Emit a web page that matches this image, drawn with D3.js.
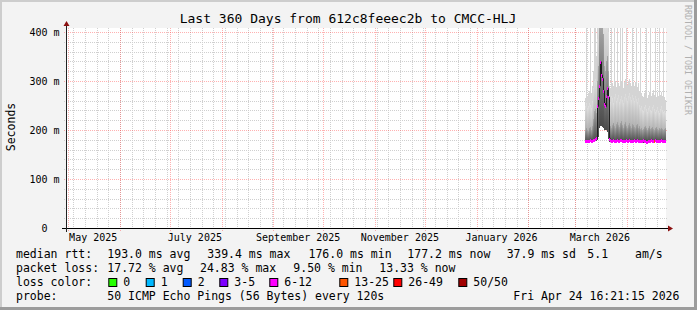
<!DOCTYPE html>
<html><head><meta charset="utf-8">
<script src="https://cdn.jsdelivr.net/npm/d3@7"></script>
<style>
html,body{margin:0;padding:0;background:#f3f3f3;}
svg{display:block;}
text{font-family:"DejaVu Sans Mono",monospace;white-space:pre;}
</style></head><body>
<svg id="c" width="697" height="310"></svg>
<script>
// ---------- data ----------
const title = "Last 360 Days from 612c8feeec2b to CMCC-HLJ";
const endTime = new Date(2026, 3, 24, 16, 21, 15);
const rangeDays = 360;
const yMax = 408.16;
const yTicks = [0, 100, 200, 300, 400];
const yTickLabels = ["0  ", "100 m", "200 m", "300 m", "400 m"];
const yMinorTicks = [20,40,60,80,120,140,160,180,220,240,260,280,320,340,360,380,400];
const xLabelDates = ["2025-05-01","2025-07-01","2025-09-01","2025-11-01","2026-01-01","2026-03-01"];
const xLabels = ["May 2025","July 2025","September 2025","November 2025","January 2026","March 2026"];

// RRD columns: one consolidated step (14.4 h) each, starting here
const dataStart = new Date(2026, 2, 7, 2, 0, 0);
const stepHours = 14.4;
// median rtt (ms)
const median = [178,177,178,177,178,179,178,178,179,180,181,183,
  248,265,290,339,312,305,280,254,248,270,285,267,
  182,179,178,178,179,178,177,178,179,178,178,180,179,178,178,177,178,179,178,178,
  179,178,178,177,178,179,178,178,179,178,178,177,178,178,179,178,177,176,176,177,
  178,178,179,178,177,178,179,178,178,177,178,178,179,178,177,178,177];
// fastest ping (bottom of smoke)
const pingMin = [175,175,175,176,175,175,176,175,176,176,177,177,
  180,185,205,208,208,206,205,200,200,200,195,182,
  176,176,175,176,176,175,176,176,175,176,176,175,176,176,175,176,176,175,176,176,
  175,176,176,175,176,176,175,176,176,175,176,175,175,174,174,175,176,176,175,176,
  176,175,176,176,175,176,176,175,176,176,175,176,176,175,176,176,175];
// upper edge of dense smoke core
const pingCore = [200,205,200,198,205,206,200,208,222,238,242,235,
  300,330,408,408,408,408,395,330,320,340,350,320,
  212,208,205,210,215,208,204,212,216,210,206,214,218,210,205,212,216,208,204,210,
  214,208,205,212,210,206,204,210,212,205,208,202,204,200,202,206,208,204,200,205,
  208,202,204,206,202,200,204,206,202,200,204,202,205,202,200,202,204];
// upper edge of main smoke
const pingHigh = [248,255,245,248,255,250,245,260,285,300,305,298,
  385,408,408,408,408,408,408,408,408,408,408,400,
  262,258,270,265,255,268,274,260,266,272,258,264,270,262,256,268,274,266,260,270,
  276,268,262,272,266,260,270,264,258,266,252,245,248,240,238,246,250,242,236,244,
  248,240,238,246,252,242,236,240,246,238,234,242,248,240,236,238,234];
// slowest ping (capped at the top of the graph)
const pingMax = [265,420,270,275,280,420,275,290,320,420,420,350,
  420,420,420,420,420,420,420,420,420,420,420,420,
  290,285,420,295,290,420,300,288,420,296,290,420,300,420,285,298,304,420,292,300,
  305,296,290,420,295,290,298,420,288,295,280,420,275,270,268,276,280,420,266,272,
  278,420,270,276,282,272,420,268,275,270,420,272,278,270,420,268,262];
// lost pings out of 50
const lossCount = [9,9,8,9,9,10,9,9,9,10,10,11,
  12,11,10,9,10,11,10,9,9,10,11,10,
  9,8,9,9,10,9,9,8,9,9,10,9,9,9,8,9,9,10,9,9,
  9,9,8,9,9,10,9,9,8,9,9,9,10,9,9,8,9,9,10,9,
  9,9,8,9,9,13,9,9,10,9,9,8,9,9,10,9,7];

const lossBuckets = [[0,0],[1,1],[2,2],[3,5],[6,12],[13,25],[26,49],[50,50]];
const lossLabels = ["0","1","2","3-5","6-12","13-25","26-49","50/50"];
const lossColors = ["#26ff00","#00b8ff","#0059ff","#7e00ff","#ff00ff","#ff5500","#ff0000","#a10000"];

const statLines = [
  {label:"median rtt:", parts:[["193.0 ms avg",107.3],["339.4 ms max",207.3],["176.0 ms min",308.5],["177.2 ms now",407.3],["37.9 ms sd",506.7],["5.1",587.3],["am/s",635]]},
  {label:"packet loss:", parts:[["17.72 % avg",107.3],["24.83 % max",200],["9.50 % min",293.3],["13.33 % now",379.3]]}
];
const probeText = "50 ICMP Echo Pings (56 Bytes) every 120s";
const dateText = "Fri Apr 24 16:21:15 2026";

// ---------- drawing ----------
const svg = d3.select("#c");
const W = 697, H = 310;
const X0 = 66, X1 = 666, Y0 = 228, Y1 = 28;
const startTime = d3.timeDay.offset(endTime, -rangeDays);
const x = d3.scaleTime().domain([startTime, endTime]).range([X0, X1]);
const y = d3.scaleLinear().domain([0, yMax]).range([Y0, Y1]);

// frame
svg.append("rect").attr("width", W).attr("height", H).attr("fill", "#f3f3f3");
svg.append("rect").attr("x",0).attr("y",0).attr("width",W).attr("height",2).attr("fill","#cdcdcd");
svg.append("rect").attr("x",0).attr("y",0).attr("width",2).attr("height",H).attr("fill","#cdcdcd");
svg.append("rect").attr("x",W-3).attr("y",0).attr("width",3).attr("height",H).attr("fill","#9c9c9c");
svg.append("rect").attr("x",0).attr("y",H-3).attr("width",W).attr("height",3).attr("fill","#9c9c9c");

// canvas
svg.append("rect").attr("x", X0).attr("y", Y1).attr("width", X1 - X0).attr("height", Y0 - Y1).attr("fill", "#fff");

const minorCol = "#cfcfcf", majorCol = "rgba(255,70,70,0.42)";
const g = svg.append("g").attr("shape-rendering", "crispEdges");
yMinorTicks.filter(v => v % 100 !== 0).forEach(v => {
  g.append("line").attr("x1", X0 - 2).attr("x2", X1 + 2)
    .attr("y1", Math.round(y(v)) + 0.5).attr("y2", Math.round(y(v)) + 0.5)
    .attr("stroke", minorCol).attr("stroke-dasharray", "1,1");
});
d3.timeSunday.range(startTime, endTime).forEach(d => {
  const xx = Math.round(x(d)) + 0.5;
  g.append("line").attr("x1", xx).attr("x2", xx).attr("y1", Y1).attr("y2", Y0 + 2)
    .attr("stroke", minorCol).attr("stroke-dasharray", "1,1");
});
d3.timeMonth.range(startTime, endTime).forEach(d => {
  const xx = Math.round(x(d)) + 0.5;
  g.append("line").attr("x1", xx).attr("x2", xx).attr("y1", Y1).attr("y2", Y0 + 3)
    .attr("stroke", majorCol).attr("stroke-dasharray", "1,1");
});
yTicks.filter(v => v > 0).forEach(v => {
  g.append("line").attr("x1", X0 - 2).attr("x2", X1 + 2)
    .attr("y1", Math.round(y(v)) + 0.5).attr("y2", Math.round(y(v)) + 0.5)
    .attr("stroke", majorCol).attr("stroke-dasharray", "1,1");
});

// smoke
const defs = svg.append("defs");
function grad(id, top, bot) {
  const lg = defs.append("linearGradient").attr("id", id).attr("x1",0).attr("y1",0).attr("x2",0).attr("y2",1);
  lg.append("stop").attr("offset","0%").attr("stop-color", top);
  lg.append("stop").attr("offset","100%").attr("stop-color", bot);
}
grad("gHigh", "#dedede", "#9a9a9a");
grad("gCore", "#a4a4a4", "#4a4a4a");

const cols = median.map((m, i) => ({
  t0: new Date(+dataStart + i * stepHours * 3600e3),
  t1: new Date(+dataStart + (i + 1) * stepHours * 3600e3),
  med: m, lo: pingMin[i], core: pingCore[i], high: pingHigh[i], max: Math.min(pingMax[i], yMax), loss: lossCount[i]
}));
const sg = svg.append("g").attr("shape-rendering", "crispEdges");
function band(key, fill) {
  sg.selectAll(null).data(cols).enter().append("rect")
    .attr("x", d => Math.round(x(d.t0)))
    .attr("width", d => Math.max(1, Math.round(x(d.t1)) - Math.round(x(d.t0))))
    .attr("y", d => y(Math.min(d[key], yMax)))
    .attr("height", d => y(d.lo) - y(Math.min(d[key], yMax)))
    .attr("fill", fill);
}
band("max", "#d4d4d4");
band("high", "url(#gHigh)");
band("core", "url(#gCore)");

// median line
const line = d3.line().x(d => Math.round(x(d.t0)) + 0.5).y(d => y(d.med)).curve(d3.curveStepAfter);
svg.append("path").datum(cols).attr("d", line).attr("fill", "none").attr("stroke", "#202020").attr("stroke-width", 1);
function lossColor(n) {
  const k = lossBuckets.findIndex(b => n >= b[0] && n <= b[1]);
  return lossColors[k < 0 ? 4 : k];
}
svg.append("g").attr("shape-rendering", "crispEdges").selectAll("rect").data(cols).enter().append("rect")
  .attr("x", d => Math.round(x(d.t0)))
  .attr("width", d => Math.max(1, Math.round(x(d.t1)) - Math.round(x(d.t0))))
  .attr("y", d => Math.round(y(d.med)) - 1).attr("height", 3)
  .attr("fill", d => lossColor(d.loss));

// axes
const ax = svg.append("g").attr("shape-rendering", "crispEdges");
ax.append("line").attr("x1", X0 - 4).attr("x2", X1 + 3).attr("y1", Y0 + 0.5).attr("y2", Y0 + 0.5).attr("stroke", "#000");
ax.append("line").attr("x1", X0 + 0.5).attr("x2", X0 + 0.5).attr("y1", Y0 + 4).attr("y2", Y1 - 3).attr("stroke", "#222");
svg.append("path").attr("d", `M${X1+2},${Y0-2.5}L${X1+2},${Y0+3.5}L${X1+7},${Y0+0.5}Z`).attr("fill", "#8b1010");
svg.append("path").attr("d", `M${X0-2.5},${Y1-2}L${X0+3.5},${Y1-2}L${X0+0.5},${Y1-7}Z`).attr("fill", "#8b1010");

svg.append("g").selectAll("text").data(yTicks).enter().append("text")
  .attr("x", 59.5).attr("y", d => y(d) + 3.6).attr("text-anchor", "end")
  .attr("font-size", 10).attr("fill", "#000").text((d, i) => yTickLabels[i]);
svg.append("g").selectAll("text").data(xLabelDates).enter().append("text")
  .attr("x", d => x(d3.timeDay.offset(d3.timeParse("%Y-%m-%d")(d), 15)))
  .attr("y", 240.5).attr("text-anchor", "middle").attr("font-size", 10).attr("fill", "#000")
  .text((d, i) => xLabels[i]);

svg.append("text").attr("x", 348).attr("y", 23).attr("text-anchor", "middle").attr("font-size", 13).text(title);
svg.append("text").attr("transform", "translate(14.5,127) rotate(-90)").attr("text-anchor", "middle")
  .attr("font-size", 11.5).text("Seconds");
svg.append("text").attr("transform", "translate(685,60) rotate(90)").attr("text-anchor", "middle")
  .attr("font-size", 8.3).attr("fill", "#b0b0b0").text("RRDTOOL / TOBI OETIKER");

// legend
const fs = 11.5;
statLines.forEach((ln, li) => {
  const yy = 258 + li * 14;
  svg.append("text").attr("x", 16).attr("y", yy).attr("font-size", fs).text(ln.label);
  ln.parts.forEach(p => svg.append("text").attr("x", p[1]).attr("y", yy).attr("font-size", fs).text(p[0]));
});
svg.append("text").attr("x", 16).attr("y", 286).attr("font-size", fs).text("loss color:");
const boxX = [108.3, 145.7, 182.7, 219.3, 269.3, 339.3, 393.3, 458.3];
lossLabels.forEach((l, i) => {
  svg.append("rect").attr("x", boxX[i] + 0.5).attr("y", 278.5).attr("width", 8).attr("height", 8)
    .attr("fill", lossColors[i]).attr("stroke", "#000").attr("stroke-width", 1);
  svg.append("text").attr("x", boxX[i] + 15).attr("y", 286).attr("font-size", fs).text(l);
});
svg.append("text").attr("x", 16).attr("y", 300).attr("font-size", fs).text("probe:");
svg.append("text").attr("x", 107.3).attr("y", 300).attr("font-size", fs).text(probeText);
svg.append("text").attr("x", 513.3).attr("y", 300).attr("font-size", fs).text(dateText);
</script>
</body></html>
